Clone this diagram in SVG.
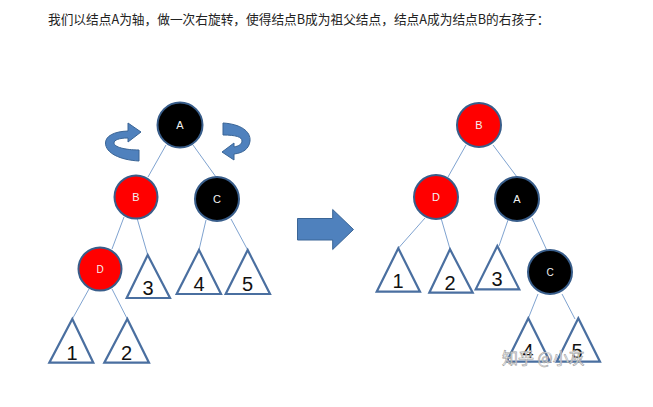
<svg xmlns="http://www.w3.org/2000/svg" width="653" height="407" viewBox="0 0 653 407">
<defs>
<style>
.title{font-family:"Noto Sans CJK SC","Noto Sans",sans-serif;font-size:12.7px;fill:#222}
.black{fill:#000;stroke:#385D8A;stroke-width:2}
.red{fill:#FF0000;stroke:#385D8A;stroke-width:2}
.lbl{font-family:"Liberation Sans",Arial,sans-serif;font-size:11px;fill:#F2F2F2;text-anchor:middle}
.tri{fill:#fff;stroke:#4A6FA0;stroke-width:2.2;stroke-linejoin:miter}
.num{font-family:"Liberation Sans",Arial,sans-serif;font-size:20px;fill:#111;text-anchor:middle}
.edge{stroke:#7FA3D0;stroke-width:1;fill:none}
.arrow{fill:#4F81BD;stroke:#3A6596;stroke-width:1}
.wm{font-family:"Noto Sans CJK SC","Noto Sans",sans-serif;font-size:16px;fill:#fff;fill-opacity:0.85;stroke:#9a9a9a;stroke-width:0.6}
</style>
</defs>
<rect width="653" height="407" fill="#fff"/>
<text class="title" x="48" y="23.5">我们以结点A为轴，做一次右旋转，使得结点B成为祖父结点，结点A成为结点B的右孩子：</text>

<g id="connectors">
<line class="edge" x1="166" y1="145" x2="148" y2="177"/>
<line class="edge" x1="193" y1="145" x2="216" y2="177"/>
<line class="edge" x1="124" y1="217" x2="112" y2="249"/>
<line class="edge" x1="137" y1="218" x2="147.7" y2="255"/>
<line class="edge" x1="206" y1="220" x2="199" y2="250"/>
<line class="edge" x1="231" y1="219" x2="247.7" y2="250"/>
<line class="edge" x1="89" y1="289" x2="72.3" y2="319"/>
<line class="edge" x1="112" y1="289" x2="127.3" y2="319"/>
<line class="edge" x1="466" y1="145" x2="448" y2="177"/>
<line class="edge" x1="493" y1="145" x2="517" y2="177"/>
<line class="edge" x1="425" y1="218" x2="398.3" y2="248.3"/>
<line class="edge" x1="441" y1="218" x2="450" y2="249"/>
<line class="edge" x1="508" y1="220" x2="499" y2="246"/>
<line class="edge" x1="532" y1="218" x2="546.7" y2="250"/>
<line class="edge" x1="538" y1="294" x2="528.3" y2="318.3"/>
<line class="edge" x1="562" y1="294" x2="575" y2="319"/>
</g>

<g id="rotate-left">
<path class="arrow" d="M139,161 C120,160 105.5,153 105.5,143 C105.5,136 114,131.5 128,131 L128,123 L141,132 L128,142 L128,138 C119,138 114,140 114,143 C114,147 125,150 139,150 Z"/>
</g>
<g id="rotate-right">
<path class="arrow" d="M223,123 C240,124 251,131 250,141 C249,149 243,153 234,154 L234,160 L222,152 L234,143 L234,147 C239,146 242,144 242,141 C242,137 236,135 223,135 Z"/>
</g>
<g id="big-arrow">
<path class="arrow" d="M297.5,218.5 L332.7,218.5 L332.7,209.5 L353.5,229.5 L332.7,249.5 L332.7,240 L297.5,240 Z"/>
</g>

<g id="L-A"><circle class="black" cx="180" cy="125" r="22.5"/><text class="lbl" x="180" y="129">A</text></g>
<g id="L-B"><circle class="red" cx="136" cy="197" r="21.5"/><text class="lbl" x="136" y="201">B</text></g>
<g id="L-C"><circle class="black" cx="217" cy="199" r="22"/><text class="lbl" x="217" y="203">C</text></g>
<g id="L-D"><circle class="red" cx="100" cy="269" r="21.5"/><text class="lbl" x="100" y="273" style="font-size:10px">D</text></g>

<g id="L-T1"><polygon class="tri" points="72.3,319 49.3,362.7 93.3,362.7"/><text class="num" x="72" y="360">1</text></g>
<g id="L-T2"><polygon class="tri" points="127.3,319 104.3,362.7 149,362.7"/><text class="num" x="126.5" y="360">2</text></g>
<g id="L-T3"><polygon class="tri" points="147.7,255 126.7,298 170,298"/><text class="num" x="148" y="295">3</text></g>
<g id="L-T4"><polygon class="tri" points="199,250 176.7,294 221,294"/><text class="num" x="199" y="291">4</text></g>
<g id="L-T5"><polygon class="tri" points="247.7,250 225.7,294 270,294"/><text class="num" x="247.5" y="291">5</text></g>

<g id="R-B"><circle class="red" cx="479" cy="125" r="22"/><text class="lbl" x="479" y="129">B</text></g>
<g id="R-D"><circle class="red" cx="436" cy="197" r="22"/><text class="lbl" x="436" y="201">D</text></g>
<g id="R-A"><circle class="black" cx="517" cy="199" r="22"/><text class="lbl" x="517" y="203">A</text></g>
<g id="R-C"><circle class="black" cx="550" cy="272" r="22"/><text class="lbl" x="550" y="276" style="font-size:10px">C</text></g>

<g id="R-T1"><polygon class="tri" points="398.3,248.3 376.7,291.7 420,291.7"/><text class="num" x="398" y="288">1</text></g>
<g id="R-T2"><polygon class="tri" points="450,249.3 429.3,292.7 472.7,292.7"/><text class="num" x="450" y="289.5">2</text></g>
<g id="R-T3"><polygon class="tri" points="497.3,246 475.7,289.3 519.3,289.3"/><text class="num" x="497" y="286">3</text></g>
<g id="R-T4"><polygon class="tri" points="528.3,318.3 506.7,361.7 550,361.7"/><text class="num" x="528" y="358">4</text></g>
<g id="R-T5"><polygon class="tri" points="578.3,318.3 556.7,361.7 600,361.7"/><text class="num" x="577" y="358">5</text></g>

<text class="wm" x="502" y="364">知乎 @小灰</text>
</svg>
